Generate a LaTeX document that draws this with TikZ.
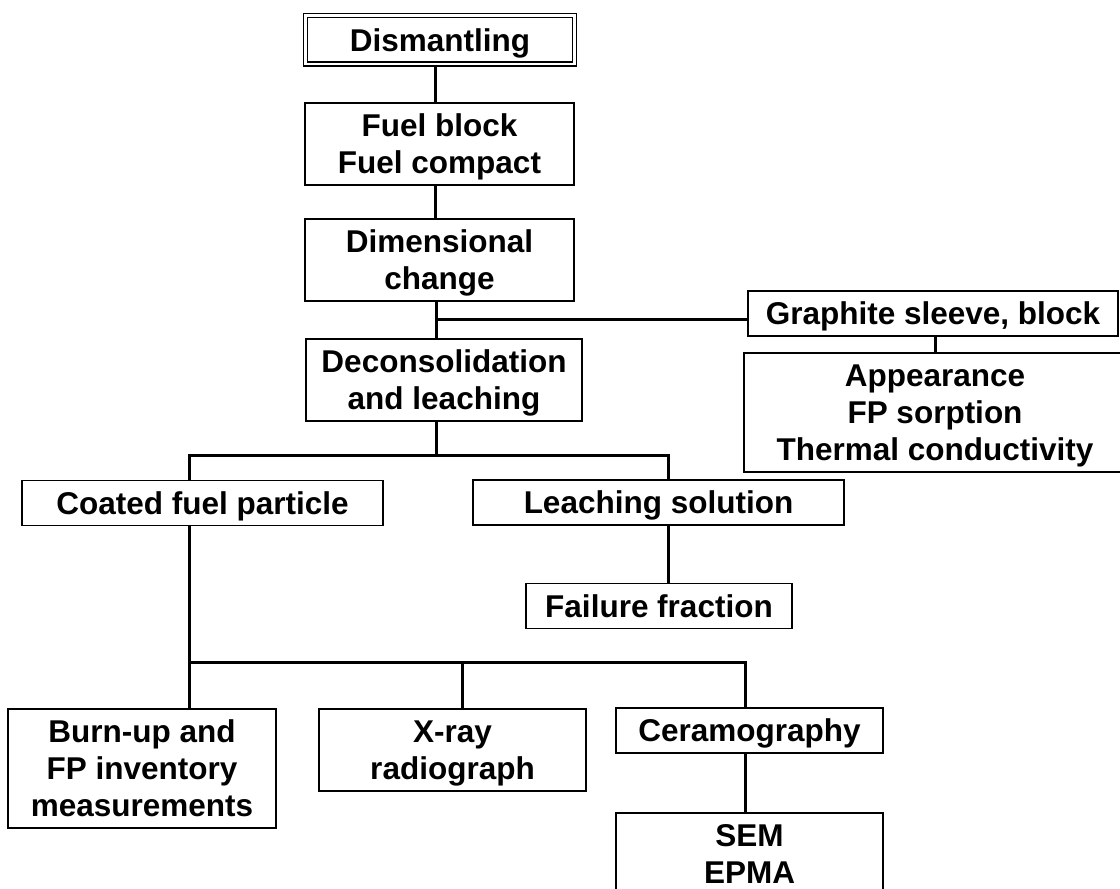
\documentclass[tikz,border=0pt]{standalone}
\usepackage{fontspec}
\setmainfont{Liberation Sans}
\newcommand{\boxtext}[1]{\begin{tabular}{@{}c@{}}\rule{0pt}{34pt}#1\end{tabular}}

\begin{document}
\begin{tikzpicture}[x=1pt, y=-1pt,
    box/.style={draw, line width=1.8pt, inner sep=0pt,
        font=\fontsize{31.5}{37}\selectfont\bfseries},
    link/.style={line width=3pt}]
    \useasboundingbox (0,0) rectangle (1120,889);

    % Draw nodes
    \node[box, double, line width=1.5pt, double distance=2.6pt, minimum width=269pt, minimum height=48.5pt] (dism) at (440,39.7) {\boxtext{Dismantling}};
    \node[box, minimum width=269pt, minimum height=81pt] (fuel) at (439.5,143.7) {\boxtext{Fuel block\\Fuel compact}};
    \node[box, minimum width=269pt, minimum height=82pt] (dimc) at (439.5,260) {\boxtext{Dimensional\\change}};
    \node[box, minimum width=370pt, minimum height=43pt] (graph) at (933,313.5) {\boxtext{Graphite sleeve, block}};
    \node[box, minimum width=382pt, minimum height=119pt] (appear) at (935,412.5) {\boxtext{Appearance\\FP sorption\\Thermal conductivity}};
    \node[box, minimum width=276pt, minimum height=82pt] (decon) at (444,380) {\boxtext{Deconsolidation\\and leaching}};
    \node[box, minimum width=361pt, minimum height=44pt] (coated) at (202.5,503) {\boxtext{Coated fuel particle}};
    \node[box, minimum width=371pt, minimum height=43pt] (leach) at (658.5,502.5) {\boxtext{Leaching solution}};
    \node[box, minimum width=266pt, minimum height=44pt] (fail) at (659,606) {\boxtext{Failure fraction}};
    \node[box, minimum width=268pt, minimum height=119pt] (burn) at (142,768.5) {\boxtext{Burn-up and\\FP inventory\\measurements}};
    \node[box, minimum width=267pt, minimum height=82pt] (xray) at (452.5,750) {\boxtext{X-ray\\radiograph}};
    \node[box, minimum width=267pt, minimum height=43pt] (ceram) at (749.5,730.5) {\boxtext{Ceramography}};
    \node[box, minimum width=267pt, minimum height=82pt] (sem) at (749.5,854) {\boxtext{SEM\\EPMA}};

    % Branch points
    \coordinate (graphjoin) at (436,319);
    \coordinate (leachjoin) at (436,455);
    \coordinate (particlejoin) at (189,662);

    % Draw connections
    \draw[link] ([xshift=-5pt]dism.south) -- ([xshift=-4.5pt]fuel.north);
    \draw[link] ([xshift=-4.5pt]fuel.south) -- ([xshift=-4.5pt]dimc.north);
    \draw[link] ([xshift=-3.5pt]dimc.south) -- ([xshift=-8pt]decon.north);
    \draw[link] (graphjoin) -- (graphjoin -| graph.west);
    \draw[link] ([xshift=2pt]graph.south) -- (appear.north);
    \draw[link] ([xshift=-8pt]decon.south) -- (leachjoin);
    \draw[link] ([xshift=-13.5pt]coated.north) |- (leachjoin) -| ([xshift=9.5pt]leach.north);
    \draw[link] ([xshift=9.5pt]leach.south) -- ([xshift=9pt]fail.north);
    \draw[link] ([xshift=-13.5pt]coated.south) -- ([xshift=47pt]burn.north);
    \draw[link] ([xshift=9.5pt]xray.north) |- (particlejoin) -| ([xshift=-4.5pt]ceram.north);
    \draw[link] ([xshift=-4.5pt]ceram.south) -- ([xshift=-4.5pt]sem.north);
\end{tikzpicture}
\end{document}
